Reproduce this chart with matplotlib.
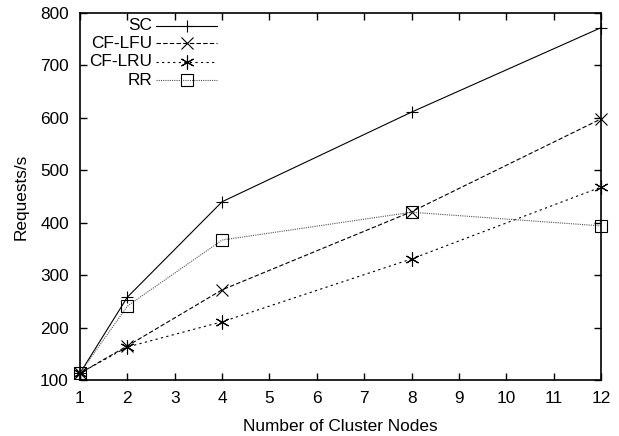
import matplotlib
matplotlib.use("Agg")
import matplotlib.pyplot as plt

plt.rcParams['font.family'] = ['Liberation Sans', 'DejaVu Sans']
plt.rcParams['font.size'] = 12.4

nodes = [1, 2, 4, 8, 12]
sc = [113, 258, 440, 611, 772]
cf_lfu = [113, 165, 272, 421, 598]
cf_lru = [113, 163, 211, 331, 468]
rr = [113, 241, 367, 420, 394]

labels = ["SC", "CF-LFU", "CF-LRU", "RR"]
series = [sc, cf_lfu, cf_lru, rr]
styles = [
    dict(color='black', ls='-', marker='+', ms=9, mfc='none'),
    dict(color='black', ls=(0, (4, 2)), marker='x', ms=8, mfc='none'),
    dict(color='black', ls=(0, (2, 3)), marker=(6, 2, 0), ms=10, mfc='none'),
    dict(color='#555555', ls=(0, (1, 1)), marker='s', ms=9, mfc='none', mec='black'),
]

fig = plt.figure(figsize=(6.19, 4.36), dpi=100)
ax = fig.add_axes([0.1292, 0.1284, 0.8418, 0.8418])

for vals, st in zip(series, styles):
    ax.plot(nodes, vals, lw=0.8, mew=0.8, clip_on=False, **st)

# gnuplot-style key: label right aligned, then the line sample
key_y = [0.9646, 0.918, 0.8665, 0.8174]
for lab, st, ky in zip(labels, styles, key_y):
    ax.text(0.138, ky, lab, transform=ax.transAxes, ha='right', va='center', fontsize=12.4)
    s = dict(st)
    mk = s.pop('marker')
    ms = s.pop('ms')
    ax.plot([0.146, 0.263], [ky, ky], transform=ax.transAxes, lw=0.8,
            **{k: v for k, v in s.items() if k in ('color', 'ls')})
    ax.plot([0.2045], [ky], transform=ax.transAxes, ls='none', marker=mk, ms=ms, mew=0.8,
            color='black', mfc='none')

ax.set_xlim(1, 12)
ax.set_ylim(100, 800)
ax.set_xticks(range(1, 13))
ax.set_yticks(range(100, 801, 100))
ax.tick_params(direction='in', top=True, right=True, length=5, width=1, labelsize=12.4, pad=8)
for sp in ax.spines.values():
    sp.set_linewidth(1.2)

ax.set_xlabel('Number of Cluster Nodes', fontsize=12.4, labelpad=9)
ax.set_ylabel('Requests/s', fontsize=12.4, labelpad=8)

fig.savefig('out.png', dpi=100)
